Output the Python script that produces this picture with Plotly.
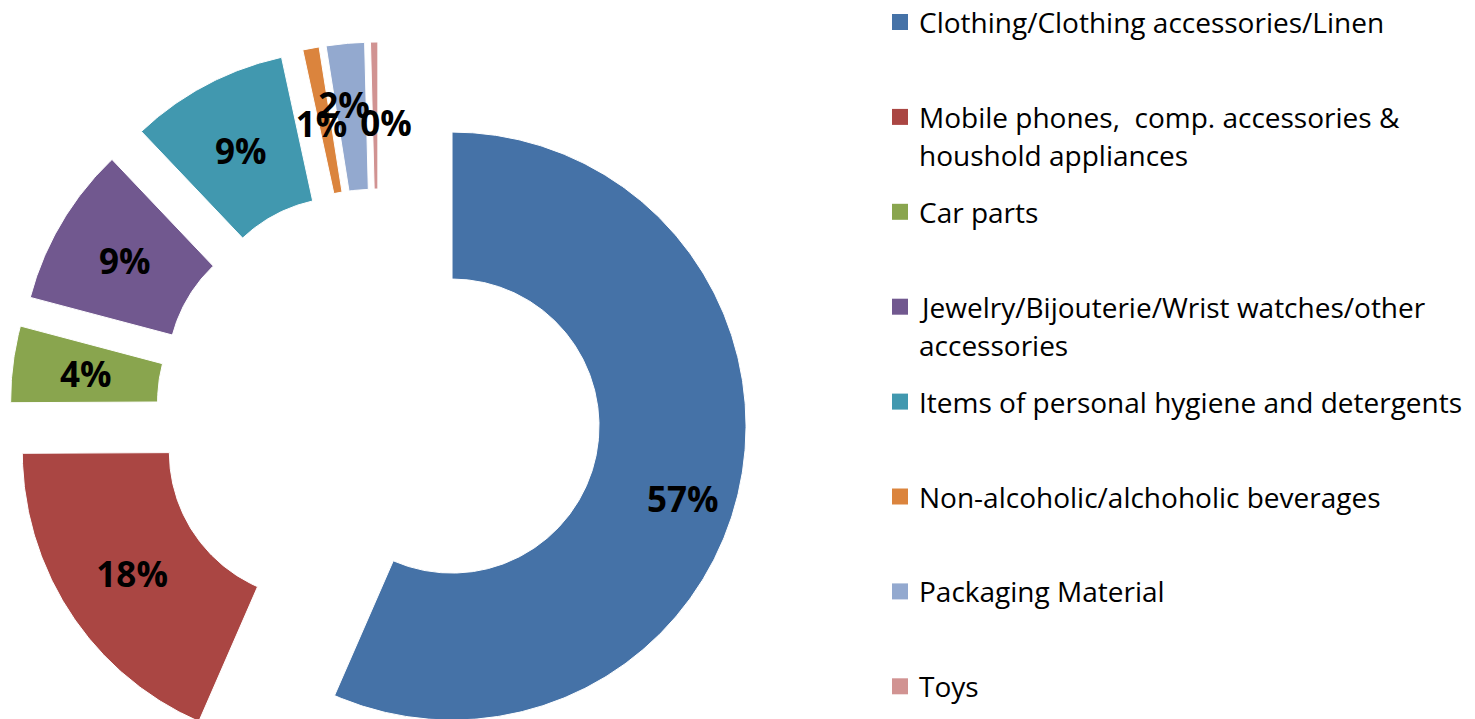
import numpy as np
import plotly.graph_objects as go

# ---------------- data ----------------
categories = [
    "Clothing/Clothing accessories/Linen",
    "Mobile phones,  comp. accessories &\nhoushold appliances",
    "Car parts",
    "Jewelry/Bijouterie/Wrist watches/other\naccessories",
    "Items of personal hygiene and detergents",
    "Non-alcoholic/alchoholic beverages",
    "Packaging Material",
    "Toys",
]
shares = [56.6, 18.4, 4.2, 8.8, 8.7, 0.9, 2.1, 0.4]
colors = ["#4572A7", "#AA4643", "#89A54E", "#71588F",
          "#4198AF", "#DB843D", "#93A9CF", "#D19392"]

# ---------------- geometry / style ----------------
W, H = 1475, 719
CX, CY = 378.8, 410.8          # donut centre (px)
R_OUT, R_IN = 294.0, 147.0      # outer / inner radius (px)
EXPLODE = 74.8                  # explosion distance (px)
LABEL_R = (R_OUT + R_IN) / 2
LABEL_DY = 5                    # optical vertical correction of data labels
# manual nudges of some data labels (px, +x right, +y down), like the reference
LABEL_NUDGE = {0: (15, 27), 5: (-3, 3), 6: (-8, -12), 7: (11, 7)}

FONT = "Open Sans"
LEG_SWATCH_X = 892
LEG_SWATCH = 16
LEG_TEXT_X = 917
LEG_ROW0 = 22
LEG_ROW_STEP = 94.9
LEG_LINE_STEP = 38

vals = np.asarray(shares, dtype=float)
frac = vals / vals.sum()
ends = np.cumsum(frac) * 360.0
starts = ends - frac * 360.0
mids = (starts + ends) / 2.0


def polar_pt(cx, cy, rad, ang_deg):
    a = np.radians(ang_deg)
    return cx + rad * np.sin(a), cy - rad * np.cos(a)


fig = go.Figure()

label_x, label_y, label_txt = [], [], []
for i, (name, s, e, m) in enumerate(zip(categories, starts, ends, mids)):
    ox, oy = polar_pt(CX, CY, EXPLODE, m)
    n = max(int((e - s) * 2) + 2, 4)
    ang = np.linspace(s, e, n)
    xo, yo = polar_pt(ox, oy, R_OUT, ang)
    xi, yi = polar_pt(ox, oy, R_IN, ang[::-1])
    xs = np.concatenate([xo, xi, xo[:1]])
    ys = np.concatenate([yo, yi, yo[:1]])
    pct = int(round(frac[i] * 100))
    fig.add_trace(go.Scatter(
        x=xs, y=ys, mode="lines", fill="toself",
        fillcolor=colors[i], line=dict(color="white", width=1),
        name=name.replace("\n", " "),
        hoveron="fills",
        text=f"{name.replace(chr(10), ' ')}: {pct}%",
        hoverinfo="text", showlegend=False,
    ))
    lx, ly = polar_pt(ox, oy, LABEL_R, m)
    dx, dy = LABEL_NUDGE.get(i, (0, 0))
    label_x.append(lx + dx)
    label_y.append(ly + dy + LABEL_DY)
    label_txt.append(f"{pct}%")

fig.add_trace(go.Scatter(
    x=label_x, y=label_y, mode="text", text=label_txt,
    textposition="middle center",
    textfont=dict(family=FONT, size=35, color="black", weight="bold"),
    hoverinfo="skip", showlegend=False,
))

# ---------------- manual legend ----------------
shapes, annotations = [], []
for i, name in enumerate(categories):
    row = LEG_ROW0 + i * LEG_ROW_STEP
    shapes.append(dict(
        type="rect", xref="paper", yref="paper",
        x0=LEG_SWATCH_X / W, x1=(LEG_SWATCH_X + LEG_SWATCH) / W,
        y0=1 - (row + LEG_SWATCH / 2) / H, y1=1 - (row - LEG_SWATCH / 2) / H,
        fillcolor=colors[i], line=dict(width=0),
    ))
    for j, line in enumerate(name.split("\n")):
        annotations.append(dict(
            xref="paper", yref="paper",
            x=LEG_TEXT_X / W, y=1 - (row + j * LEG_LINE_STEP) / H,
            xanchor="left", yanchor="middle", showarrow=False,
            text=line.replace("  ", "\u00a0 "),
            font=dict(family=FONT, size=28, color="black"),
        ))

fig.update_layout(
    width=W, height=H,
    margin=dict(l=0, r=0, t=0, b=0),
    paper_bgcolor="white", plot_bgcolor="white",
    xaxis=dict(range=[0, W], visible=False, fixedrange=True),
    yaxis=dict(range=[H, 0], visible=False, fixedrange=True),
    shapes=shapes, annotations=annotations,
    showlegend=False, hovermode="closest",
)

fig.write_html(
    "out.html",
    config={"displayModeBar": False},
    post_script="document.body.style.margin='0px';document.body.style.overflow='hidden';",
)
